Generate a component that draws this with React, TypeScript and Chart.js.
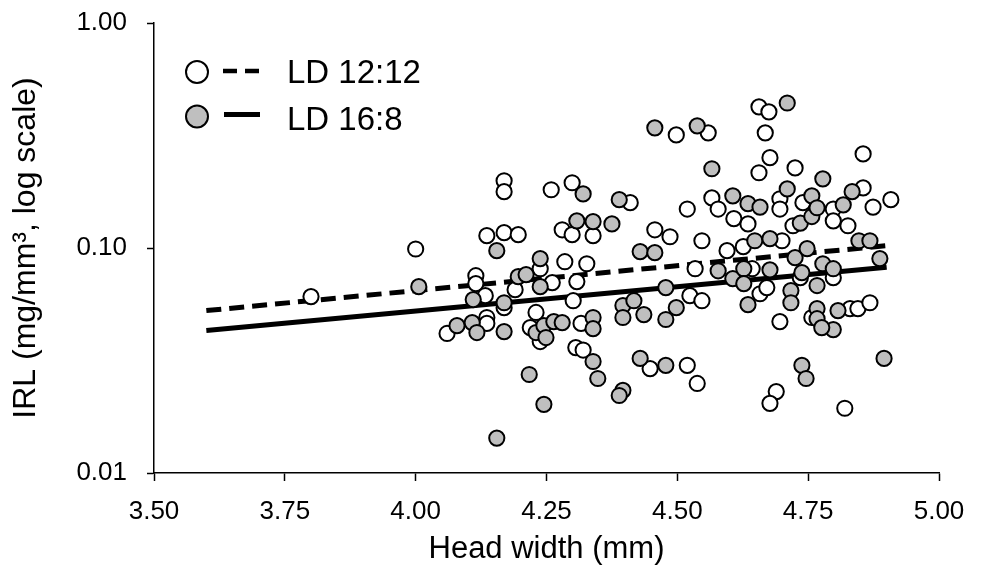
import React, { useEffect, useRef } from "react";
import { Chart, registerables } from "chart.js";

Chart.register(...registerables);

// ---- Data ----
const xTickValues = [3.5, 3.75, 4.0, 4.25, 4.5, 4.75, 5.0];
const yTickValues = [0.01, 0.1, 1];

const seriesNames = ["LD 12:12", "LD 16:8"];

// LD 12:12 (open circles)
const ld12X = [3.80, 4.00, 4.06, 4.115, 4.115, 4.133, 4.136, 4.136, 4.136, 4.169, 4.169, 4.169, 4.169, 4.196, 4.19, 4.219, 4.23, 4.238, 4.238, 4.259, 4.261, 4.28, 4.285, 4.299, 4.299, 4.301, 4.308, 4.316, 4.306, 4.32, 4.327, 4.339, 4.41, 4.448, 4.457, 4.486, 4.498, 4.519, 4.519, 4.534, 4.538, 4.524, 4.547, 4.547, 4.559, 4.566, 4.578, 4.595, 4.608, 4.626, 4.635, 4.643, 4.658, 4.671, 4.656, 4.675, 4.668, 4.677, 4.656, 4.689, 4.677, 4.70, 4.696, 4.696, 4.696, 4.725, 4.721, 4.74, 4.735, 4.757, 4.798, 4.798, 4.798, 4.82, 4.826, 4.83, 4.845, 4.868, 4.855, 4.855, 4.874, 4.908];
const ld12Y = [0.0608, 0.099, 0.0417, 0.0753, 0.0695, 0.0614, 0.0491, 0.0462, 0.1135, 0.199, 0.178, 0.117, 0.0543, 0.1146, 0.0653, 0.0443, 0.0517, 0.0384, 0.0809, 0.1815, 0.0702, 0.1205, 0.0869, 0.195, 0.1146, 0.0583, 0.0709, 0.0462, 0.0361, 0.0352, 0.0851, 0.1135, 0.159, 0.0291, 0.1205, 0.1122, 0.318, 0.149, 0.0301, 0.0809, 0.025, 0.0614, 0.0583, 0.1077, 0.325, 0.167, 0.149, 0.0973, 0.135, 0.1014, 0.128, 0.0809, 0.0626, 0.0667, 0.424, 0.403, 0.325, 0.252, 0.216, 0.023, 0.0204, 0.1077, 0.1655, 0.149, 0.0471, 0.227, 0.1256, 0.159, 0.0738, 0.0491, 0.0738, 0.149, 0.132, 0.0194, 0.1256, 0.0538, 0.0538, 0.0571, 0.262, 0.185, 0.152, 0.164];

// LD 16:8 (grey circles)
const ld16X = [4.006, 4.079, 4.108, 4.117, 4.110, 4.155, 4.169, 4.169, 4.155, 4.196, 4.211, 4.217, 4.230, 4.238, 4.238, 4.245, 4.249, 4.245, 4.264, 4.280, 4.308, 4.320, 4.339, 4.339, 4.339, 4.339, 4.348, 4.375, 4.389, 4.396, 4.396, 4.396, 4.389, 4.417, 4.436, 4.429, 4.429, 4.457, 4.457, 4.478, 4.478, 4.478, 4.498, 4.538, 4.566, 4.578, 4.606, 4.606, 4.627, 4.627, 4.635, 4.635, 4.648, 4.658, 4.677, 4.677, 4.710, 4.710, 4.717, 4.717, 4.725, 4.735, 4.738, 4.738, 4.746, 4.748, 4.757, 4.757, 4.767, 4.767, 4.767, 4.767, 4.778, 4.778, 4.798, 4.807, 4.798, 4.776, 4.817, 4.834, 4.847, 4.868, 4.887, 4.895];
const ld16Y = [0.0673, 0.0452, 0.0466, 0.0421, 0.059, 0.0973, 0.0571, 0.0425, 0.0143, 0.0746, 0.0762, 0.0274, 0.0421, 0.0897, 0.0673, 0.0452, 0.040, 0.0202, 0.0471, 0.0466, 0.132, 0.174, 0.131, 0.0491, 0.0438, 0.0313, 0.0263, 0.128, 0.164, 0.0555, 0.0491, 0.0233, 0.0221, 0.0583, 0.0506, 0.0964, 0.0323, 0.342, 0.0953, 0.0667, 0.0481, 0.0301, 0.0543, 0.349, 0.225, 0.0792, 0.1706, 0.0731, 0.0809, 0.0695, 0.1574, 0.056, 0.1077, 0.152, 0.110, 0.080, 0.441, 0.183, 0.0647, 0.0571, 0.0906, 0.129, 0.0777, 0.0301, 0.0263, 0.0993, 0.1706, 0.138, 0.151, 0.0681, 0.0538, 0.0485, 0.203, 0.0851, 0.0809, 0.0527, 0.0434, 0.0443, 0.1556, 0.178, 0.1077, 0.1077, 0.0897, 0.0323];

// Fitted regression lines (end points)
const fitX = [3.6, 4.9];
const fit12Y = [0.0527, 0.1024];
const fit16Y = [0.043, 0.0822];

const FONT = '"Liberation Sans", Arial, sans-serif';
const GREY = "#bfbfbf";

const legendPlugin = {
  id: "customLegend",
  afterDraw(chart: any) {
    const ctx = chart.ctx;
    ctx.save();
    // LD 12:12 row
    ctx.strokeStyle = "#000";
    ctx.lineWidth = 4.5;
    ctx.setLineDash([14, 8]);
    ctx.beginPath();
    ctx.moveTo(223, 71);
    ctx.lineTo(260, 71);
    ctx.stroke();
    ctx.setLineDash([]);
    ctx.lineWidth = 2;
    ctx.fillStyle = "#fff";
    ctx.beginPath();
    ctx.arc(197, 72, 11, 0, Math.PI * 2);
    ctx.fill();
    ctx.stroke();
    // LD 16:8 row
    ctx.lineWidth = 5;
    ctx.beginPath();
    ctx.moveTo(224, 114.5);
    ctx.lineTo(260, 114.5);
    ctx.stroke();
    ctx.lineWidth = 2;
    ctx.fillStyle = GREY;
    ctx.beginPath();
    ctx.arc(197, 116.5, 11, 0, Math.PI * 2);
    ctx.fill();
    ctx.stroke();
    // texts
    ctx.fillStyle = "#000";
    ctx.font = `33px ${FONT}`;
    ctx.textAlign = "left";
    ctx.textBaseline = "alphabetic";
    ctx.fillText(seriesNames[0], 287, 83);
    ctx.fillText(seriesNames[1], 287, 129.5);
    ctx.restore();
  },
};

export default function App() {
  const ref = useRef<HTMLCanvasElement | null>(null);

  useEffect(() => {
    if (!ref.current) return;
    const pts = (xs: number[], ys: number[]) => xs.map((x, i) => ({ x, y: ys[i] }));
    const chart = new Chart(ref.current, {
      type: "scatter",
      data: {
        datasets: [
          {
            label: seriesNames[1],
            data: pts(ld16X, ld16Y),
            backgroundColor: GREY,
            borderColor: "#000",
            borderWidth: 2,
            pointRadius: 7.6,
            pointHoverRadius: 7.6,
            order: 0,
          },
          {
            label: seriesNames[0],
            data: pts(ld12X, ld12Y),
            backgroundColor: "#fff",
            borderColor: "#000",
            borderWidth: 2,
            pointRadius: 7.6,
            pointHoverRadius: 7.6,
            order: 1,
          },
          {
            type: "line",
            label: seriesNames[0] + " fit",
            data: pts(fitX, fit12Y),
            borderColor: "#000",
            borderWidth: 5,
            borderDash: [15, 8],
            pointRadius: 0,
            showLine: true,
            fill: false,
            order: 2,
          } as any,
          {
            type: "line",
            label: seriesNames[1] + " fit",
            data: pts(fitX, fit16Y),
            borderColor: "#000",
            borderWidth: 5,
            pointRadius: 0,
            showLine: true,
            fill: false,
            order: 3,
          } as any,
        ],
      },
      options: {
        responsive: false,
        animation: false,
        events: [],
        layout: { padding: { top: 23, right: 44, left: 0, bottom: 0 } },
        plugins: {
          legend: { display: false },
          tooltip: { enabled: false },
        },
        scales: {
          x: {
            type: "linear",
            min: 3.5,
            max: 5.0,
            afterFit: (s: any) => {
              s.height = 98;
              s.paddingLeft = 0;
              s.paddingRight = 0;
            },
            afterBuildTicks: (s: any) => {
              s.ticks = xTickValues.map((v) => ({ value: v }));
            },
            ticks: {
              color: "#000",
              font: { family: FONT, size: 26 },
              padding: 15,
              maxRotation: 0,
              autoSkip: false,
              callback: (v: any) => Number(v).toFixed(2),
            },
            grid: {
              display: true,
              drawOnChartArea: false,
              drawTicks: true,
              tickLength: 8,
              tickWidth: 1.5,
              tickColor: "#000",
              color: "#000",
            },
            border: { display: true, color: "#000", width: 1.5 },
            title: {
              display: true,
              text: "Head width (mm)",
              color: "#000",
              font: { family: FONT, size: 31 },
              padding: { top: 0, bottom: 2.5 },
            },
          },
          y: {
            type: "logarithmic",
            min: 0.01,
            max: 1,
            afterFit: (s: any) => {
              s.width = 154;
              s.paddingTop = 0;
              s.paddingBottom = 0;
            },
            afterBuildTicks: (s: any) => {
              s.ticks = yTickValues.map((v) => ({ value: v }));
            },
            ticks: {
              color: "#000",
              font: { family: FONT, size: 26 },
              padding: 20,
              autoSkip: false,
              callback: (v: any) => Number(v).toFixed(2),
            },
            grid: {
              display: true,
              drawOnChartArea: false,
              drawTicks: true,
              tickLength: 7,
              tickWidth: 1.5,
              tickColor: "#000",
              color: "#000",
            },
            border: { display: true, color: "#000", width: 1.5 },
            title: {
              display: true,
              text: "IRL (mg/mm³, log scale)",
              color: "#000",
              font: { family: FONT, size: 32 },
              padding: { top: 7, bottom: 0 },
            },
          },
        },
      },
      plugins: [legendPlugin],
    });
    return () => chart.destroy();
  }, []);

  return (
    <div style={{ position: "absolute", left: 0, top: 0, width: 983, height: 571, background: "#fff" }}>
      <canvas ref={ref} width={983} height={571} />
    </div>
  );
}
